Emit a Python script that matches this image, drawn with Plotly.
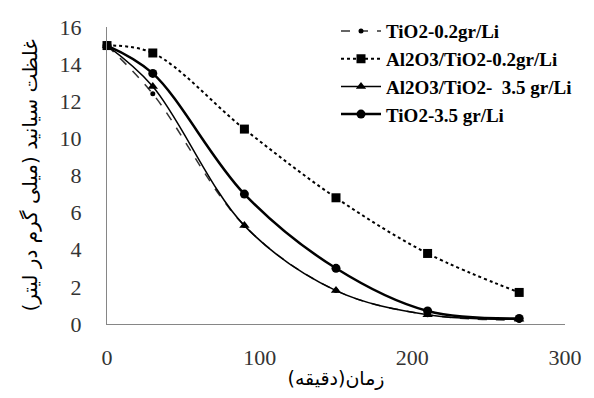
import plotly.graph_objects as go

time_min = [0, 30, 90, 150, 210, 270]
series_names = ["TiO2-0.2gr/Li", "Al2O3/TiO2-0.2gr/Li", "Al2O3/TiO2-  3.5 gr/Li", "TiO2-3.5 gr/Li"]
tio2_02 = [15, 12.4, 5.3, 1.8, 0.5, 0.2]
al_tio2_02 = [15, 14.6, 10.5, 6.8, 3.8, 1.7]
al_tio2_35 = [15, 12.8, 5.3, 1.8, 0.5, 0.25]
tio2_35 = [15, 13.5, 7.0, 3.0, 0.7, 0.3]

x_ticks = [0, 100, 200, 300]
y_ticks = [0, 2, 4, 6, 8, 10, 12, 14, 16]

serif = "Times New Roman, Liberation Serif, serif"

fig = go.Figure()
styles = [
    (tio2_02, dict(color="#333333", width=1.5, dash="dash", shape="spline"), dict(symbol="circle", size=5, color="black")),
    (al_tio2_02, dict(color="black", width=2, dash="dot", shape="spline"), dict(symbol="square", size=9, color="black")),
    (al_tio2_35, dict(color="black", width=1.5, dash="solid", shape="spline"), dict(symbol="triangle-up", size=9, color="black")),
    (tio2_35, dict(color="black", width=2.5, dash="solid", shape="spline"), dict(symbol="circle", size=9, color="black")),
]
for name, (vals, line, marker) in zip(series_names, styles):
    fig.add_trace(go.Scatter(x=time_min, y=vals, name=name, mode="lines+markers",
                             line=line, marker=marker, cliponaxis=False))

fig.update_layout(
    width=594, height=398,
    margin=dict(l=107, r=21, t=14, b=74),
    paper_bgcolor="white", plot_bgcolor="white",
    font=dict(family=serif, size=22, color="#333333"),
    showlegend=True,
    legend=dict(x=0.5, y=1.05, xanchor="left", yanchor="top",
                font=dict(family=serif, size=19, color="black", weight="bold"),
                bgcolor="rgba(0,0,0,0)", tracegroupgap=0, itemwidth=40),
    xaxis=dict(range=[0, 300], tickvals=x_ticks, showgrid=False, zeroline=False,
               showline=True, linecolor="#868686", linewidth=1, ticks="",
               tickfont=dict(size=22, family=serif, color="#333333"), ticklabelstandoff=14,
               title=dict(text="زمان(دقیقه)", font=dict(family="DejaVu Sans", size=19, color="black"), standoff=2)),
    yaxis=dict(range=[0, 16], tickvals=y_ticks, showgrid=False, zeroline=False,
               showline=True, linecolor="#868686", linewidth=1, ticks="",
               tickfont=dict(size=22, family=serif, color="#333333"), ticklabelstandoff=20,
               title=dict(text="غلظت سیانید (میلی گرم در لیتر)", font=dict(family="DejaVu Sans", size=20, color="black"), standoff=16)),
)

fig.write_html("out.html")
